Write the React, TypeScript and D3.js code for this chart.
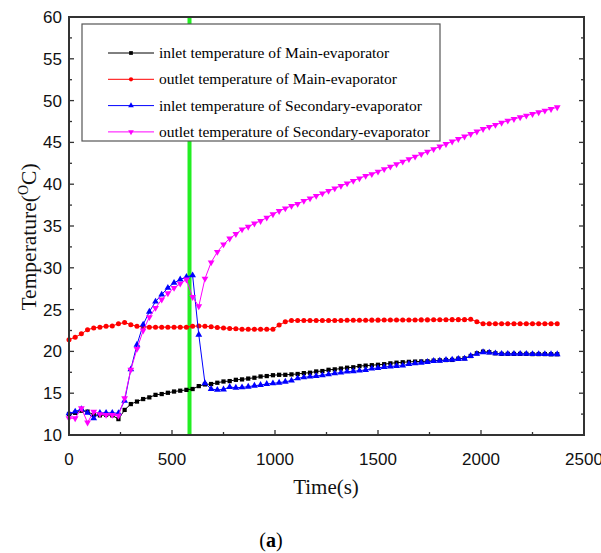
import React from "react";
import * as d3 from "d3";

const STEP = 30;
const inletMain = [12.5,12.65,12.9,12.8,12.4,12.35,12.4,12.35,11.9,13.0,13.7,14.0,14.3,14.5,14.8,14.9,15.05,15.2,15.3,15.4,15.5,15.85,16.05,16.1,16.25,16.4,16.45,16.6,16.65,16.75,16.85,17.0,17.05,17.15,17.2,17.2,17.25,17.3,17.4,17.45,17.6,17.65,17.8,17.85,17.95,18.05,18.1,18.25,18.3,18.35,18.4,18.47,18.57,18.65,18.7,18.75,18.78,18.8,18.82,18.89,18.93,18.97,18.98,19.13,19.17,19.45,19.77,19.97,19.9,19.77,19.7,19.7,19.7,19.7,19.7,19.68,19.68,19.68,19.66,19.66];
const outletMain = [21.4,21.7,22.1,22.6,22.8,22.9,23.0,23.05,23.3,23.45,23.2,23.0,22.95,22.9,22.9,22.9,22.9,22.9,22.9,22.9,23.0,23.05,23.0,22.95,22.85,22.8,22.75,22.7,22.65,22.65,22.65,22.65,22.65,22.65,23.15,23.55,23.7,23.7,23.7,23.7,23.7,23.7,23.7,23.7,23.7,23.72,23.72,23.72,23.72,23.74,23.74,23.75,23.75,23.75,23.76,23.76,23.76,23.77,23.77,23.78,23.78,23.78,23.8,23.8,23.8,23.85,23.55,23.3,23.3,23.3,23.3,23.3,23.3,23.3,23.3,23.3,23.3,23.3,23.3,23.3];
const inletSecondary = [12.6,12.8,13.1,12.65,12.0,12.65,12.65,12.65,12.6,14.1,17.85,20.8,23.2,24.75,25.95,26.8,27.6,28.2,28.6,28.9,29.1,22.0,16.2,15.5,15.4,15.45,15.75,15.65,15.7,15.78,15.9,15.98,16.1,16.18,16.26,16.38,16.5,16.78,16.9,16.98,17.06,17.14,17.26,17.38,17.46,17.58,17.62,17.7,17.78,17.94,18.02,18.14,18.2,18.25,18.3,18.49,18.57,18.65,18.74,18.85,18.89,18.97,19.0,19.09,19.13,19.45,19.7,19.9,19.86,19.77,19.7,19.7,19.7,19.7,19.7,19.68,19.68,19.68,19.66,19.66];
const outletSecondary = [12.0,12.0,13.2,11.5,12.8,12.5,12.4,12.4,12.3,14.4,17.8,20.3,22.5,24.1,25.2,26.2,26.95,27.6,28.1,28.6,26.5,25.4,28.7,30.65,31.9,32.8,33.5,34.04,34.6,34.9,35.3,35.6,36.0,36.4,36.8,37.1,37.4,37.65,38.0,38.3,38.6,38.9,39.2,39.5,39.8,40.1,40.4,40.7,41.0,41.2,41.5,41.8,42.1,42.4,42.7,43.0,43.3,43.6,43.9,44.2,44.5,44.8,45.1,45.4,45.7,46.0,46.3,46.6,46.85,47.1,47.35,47.6,47.8,48.0,48.2,48.4,48.6,48.8,49.0,49.2];

const seriesNames = [
  "inlet temperature of Main-evaporator",
  "outlet temperature of Main-evaporator",
  "inlet temperature of Secondary-evaporator",
  "outlet temperature of Secondary-evaporator",
];
const seriesColors = ["#000000", "#ff0000", "#0000ff", "#ff00ff"];
const xTicks = [0, 500, 1000, 1500, 2000, 2500];
const yTicks = [10, 15, 20, 25, 30, 35, 40, 45, 50, 55, 60];
const switchTime = 585;

const W = 601, H = 553;
const L = 69, R = 584, T = 17, B = 435;

function markerPath(kind: number, size: number) {
  const types = [d3.symbolSquare, d3.symbolCircle, d3.symbolTriangle, d3.symbolTriangle];
  return d3.symbol().type(types[kind]).size(size)() as string;
}

export default function App() {
  const x = d3.scaleLinear().domain([0, 2500]).range([L, R]);
  const y = d3.scaleLinear().domain([10, 60]).range([B, T]);
  const all = [inletMain, outletMain, inletSecondary, outletSecondary];
  const line = d3.line<number>().x((_, i) => x(i * STEP)).y((d) => y(d));
  const sizes = [18, 20, 20, 20];
  const minorX = d3.range(250, 2500, 500);
  const minorY = d3.range(12.5, 60, 5);
  const sans = "'Liberation Sans', Arial, sans-serif";
  const serif = "'Liberation Serif', 'Times New Roman', serif";
  const axisColor = "#333";

  return (
    <svg width={W} height={H} style={{ position: "absolute", left: 0, top: 0, background: "#fff" }}>
      <rect x={0} y={0} width={W} height={H} fill="#fff" />
      <line x1={x(switchTime)} x2={x(switchTime)} y1={y(60)} y2={y(10)} stroke="#22ee22" strokeWidth={4} />
      {all.map((s, k) => (
        <g key={k}>
          <path d={line(s) as string} fill="none" stroke={seriesColors[k]} strokeWidth={1} />
          {s.map((v, i) => (
            <path
              key={i}
              d={markerPath(k, sizes[k])}
              transform={`translate(${x(i * STEP)},${y(v)})${k === 3 ? " rotate(180)" : ""}`}
              fill={seriesColors[k]}
            />
          ))}
        </g>
      ))}
      <rect x={82} y={24} width={358} height={117} fill="#fff" stroke="#555" strokeWidth={1.2} />
      {seriesNames.map((n, k) => {
        const cy = 53 + k * 26.3;
        return (
          <g key={n}>
            <line x1={108} x2={154} y1={cy} y2={cy} stroke={seriesColors[k]} strokeWidth={1} />
            <path d={markerPath(k, 14)} transform={`translate(131,${cy})${k === 3 ? " rotate(180)" : ""}`} fill={seriesColors[k]} />
            <text x={159} y={cy + 5} fontFamily={serif} fontSize={15.5} fill="#000">{n}</text>
          </g>
        );
      })}
      <rect x={L} y={T} width={R - L} height={B - T} fill="none" stroke={axisColor} strokeWidth={2} />
      {xTicks.map((t) => (
        <g key={t}>
          <line x1={x(t)} x2={x(t)} y1={B} y2={B - 5} stroke={axisColor} strokeWidth={1.3} />
          <text x={x(t)} y={465} textAnchor="middle" fontFamily={sans} fontSize={17} fill="#111">{t}</text>
        </g>
      ))}
      {minorX.map((t) => (
        <line key={t} x1={x(t)} x2={x(t)} y1={B} y2={B - 3} stroke={axisColor} strokeWidth={1.3} />
      ))}
      {yTicks.map((t) => (
        <g key={t}>
          <line x1={L} x2={L + 5} y1={y(t)} y2={y(t)} stroke={axisColor} strokeWidth={1.3} />
          <line x1={R} x2={R - 5} y1={y(t)} y2={y(t)} stroke={axisColor} strokeWidth={1.3} />
          <text x={62} y={y(t) + 6} textAnchor="end" fontFamily={sans} fontSize={17} fill="#111">{t}</text>
        </g>
      ))}
      {minorY.map((t) => (
        <g key={t}>
          <line x1={L} x2={L + 3} y1={y(t)} y2={y(t)} stroke={axisColor} strokeWidth={1.3} />
          <line x1={R} x2={R - 3} y1={y(t)} y2={y(t)} stroke={axisColor} strokeWidth={1.3} />
        </g>
      ))}
      <text x={326} y={494} textAnchor="middle" fontFamily={serif} fontSize={21} fill="#111">Time(s)</text>
      <text transform="translate(36,237) rotate(-90)" textAnchor="middle" fontFamily={serif} fontSize={21.5} fill="#111">
        Temperature(<tspan dy={-8} fontSize={14}>O</tspan><tspan dy={8}>C)</tspan>
      </text>
      <text x={271} y={547} textAnchor="middle" fontFamily={serif} fontSize={20} fill="#000">
        (<tspan fontWeight="bold">a</tspan>)
      </text>
    </svg>
  );
}
